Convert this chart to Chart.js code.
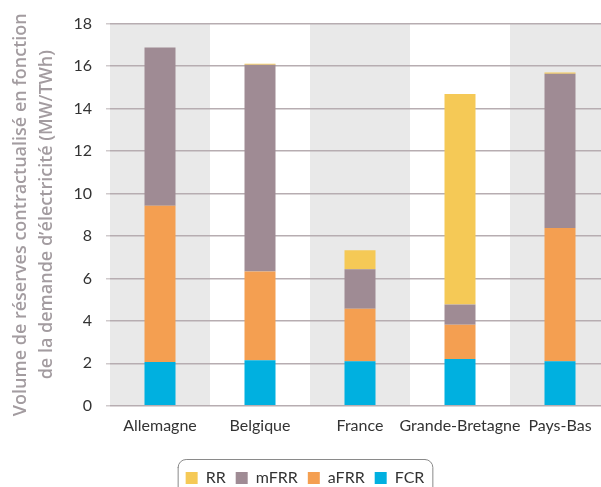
<!DOCTYPE html>
<html>
<head>
<meta charset="utf-8">
<script src="https://cdn.jsdelivr.net/npm/chart.js@4.4.1/dist/chart.umd.min.js"></script>
<style>
  html, body { margin: 0; padding: 0; background: #fff; overflow: hidden; }
  #wrap { width: 621px; height: 487px; }
</style>
</head>
<body>
<div id="wrap"><canvas id="c" width="621" height="487"></canvas></div>
<script>
// Contracted reserve volumes per TWh of electricity demand (MW/TWh)
const categories = ['Allemagne', 'Belgique', 'France', 'Grande-Bretagne', 'Pays-Bas'];
const fcr  = [2.06, 2.15, 2.10, 2.20, 2.10];
const afrr = [7.36, 4.18, 2.47, 1.62, 6.27];
const mfrr = [7.45, 9.73, 1.86, 0.95, 7.27];
const rr   = [0.00, 0.05, 0.90, 9.92, 0.06];
const yTicks = [0, 2, 4, 6, 8, 10, 12, 14, 16, 18];

const colors = { RR: '#f5c956', mFRR: '#9f8b94', aFRR: '#f49f51', FCR: '#00b0e0' };

// Alternating grey bands behind every other country
const bandsPlugin = {
  id: 'bands',
  beforeDraw(chart) {
    const { ctx, chartArea, scales } = chart;
    ctx.save();
    ctx.fillStyle = '#ffffff';
    ctx.fillRect(0, 0, chart.width, chart.height);
    const x = scales.x;
    categories.forEach((c, i) => {
      if (i % 2 !== 0) return;
      const center = x.getPixelForValue(i);
      const half = x.width / categories.length / 2;
      ctx.fillStyle = '#e9e9e9';
      ctx.fillRect(center - half, chartArea.top, half * 2, chartArea.bottom - chartArea.top);
    });
    ctx.restore();
  }
};

// Rounded frame around the legend; the legend sits a little lower than default
const legendFramePlugin = {
  id: 'legendFrame',
  beforeUpdate(chart) {
    const lg = chart.legend;
    if (lg && !lg._shifted) {
      const fit = lg.fit;
      lg.fit = function () { fit.call(this); this.height -= 9; };
      lg._shifted = true;
    }
  },
  afterDraw(chart) {
    const lg = chart.legend;
    if (!lg || !lg.legendHitBoxes || !lg.legendHitBoxes.length) return;
    const boxes = lg.legendHitBoxes;
    const left = Math.min(...boxes.map(b => b.left)) - 8;
    const right = Math.max(...boxes.map(b => b.left + b.width)) + 9;
    const top = Math.min(...boxes.map(b => b.top)) - 11;
    const bottom = chart.height + 20;
    const r = 8;
    const { ctx } = chart;
    ctx.save();
    ctx.strokeStyle = '#8a8a8a';
    ctx.lineWidth = 1;
    ctx.beginPath();
    ctx.moveTo(left + 0.5, bottom);
    ctx.lineTo(left + 0.5, top + r);
    ctx.arcTo(left + 0.5, top + 0.5, left + r, top + 0.5, r);
    ctx.lineTo(right - r, top + 0.5);
    ctx.arcTo(right - 0.5, top + 0.5, right - 0.5, top + r, r);
    ctx.lineTo(right - 0.5, bottom);
    ctx.stroke();
    ctx.restore();
  }
};

const tickFont = { family: 'Lato', size: 16 };

new Chart(document.getElementById('c'), {
  type: 'bar',
  data: {
    labels: categories,
    datasets: [
      { label: 'FCR',  data: fcr,  backgroundColor: colors.FCR },
      { label: 'aFRR', data: afrr, backgroundColor: colors.aFRR },
      { label: 'mFRR', data: mfrr, backgroundColor: colors.mFRR },
      { label: 'RR',   data: rr,   backgroundColor: colors.RR }
    ]
  },
  options: {
    responsive: false,
    animation: false,
    devicePixelRatio: 1,
    layout: { padding: { top: 21, right: 11, left: 0, bottom: 0 } },
    datasets: { bar: { barPercentage: 0.31, categoryPercentage: 1.0, borderWidth: 0 } },
    scales: {
      x: {
        stacked: true,
        grid: { display: false, drawTicks: false },
        border: { display: false },
        ticks: { color: '#333333', font: tickFont, padding: 10, maxRotation: 0, autoSkip: false },
        afterFit(scale) { scale.height += 15; }
      },
      y: {
        stacked: true,
        min: 0,
        max: 18,
        afterBuildTicks(scale) { scale.ticks = yTicks.map(v => ({ value: v })); },
        afterFit(scale) { scale.width = 110; },
        grid: { color: '#b7adb1', lineWidth: 1.5, tickLength: 4, tickColor: '#d0cacc' },
        border: { display: false },
        ticks: { color: '#333333', font: tickFont, padding: 14 },
        title: {
          display: true,
          text: ['Volume de réserves contractualisé en fonction', 'de la demande d’électricité (MW/TWh)'],
          color: '#a39ca0',
          font: { family: 'Open Sans', size: 18, weight: '600', lineHeight: 1.44 },
          padding: { top: 8, bottom: 0 }
        }
      }
    },
    plugins: {
      legend: {
        position: 'bottom',
        reverse: true,
        labels: {
          boxWidth: 12,
          boxHeight: 12,
          padding: 10,
          color: '#333333',
          font: { family: 'Lato', size: 16 }
        }
      },
      tooltip: { enabled: false }
    }
  },
  plugins: [bandsPlugin, legendFramePlugin]
});
</script>
</body>
</html>
